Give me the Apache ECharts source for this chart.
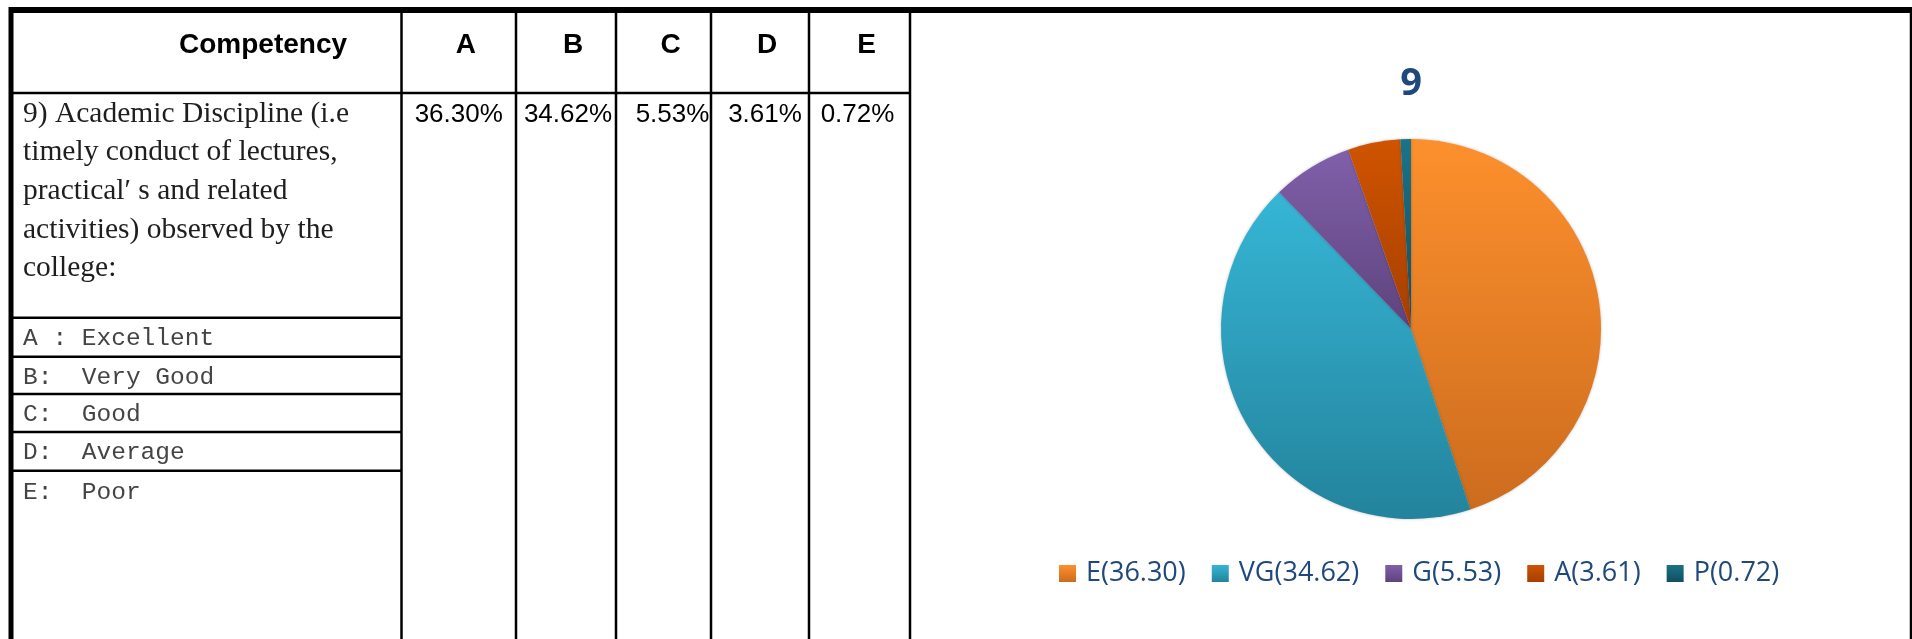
<!DOCTYPE html>
<html>
<head>
<meta charset="utf-8">
<title>Academic Discipline</title>
<script src="https://cdn.jsdelivr.net/npm/echarts@6/dist/echarts.min.js"></script>
<style>
  html, body { margin: 0; padding: 0; background: #fff; }
  #chart { width: 1912px; height: 639px; }
</style>
</head>
<body>
<div id="chart"></div>
<script>
// ---- data ----
const sliceNames = ['E', 'VG', 'G', 'A', 'P'];
const sliceValues = [36.30, 34.62, 5.53, 3.61, 0.72];
const gradeCodes = ['A', 'B', 'C', 'D', 'E'];
const gradeNames = ['Excellent', 'Very Good', 'Good', 'Average', 'Poor'];
const headerTitle = 'Competency';
const questionLines = [
  '9) Academic Discipline (i.e',
  'timely conduct of lectures,',
  'practical\u2032 s and related',
  'activities) observed by the',
  'college:'
];
const chartTitle = '9';

// ---- look ----
const sliceColors = [
  ['#fd902d', '#cc6c1e'],
  ['#36b6d6', '#23839c'],
  ['#8060aa', '#5e437d'],
  ['#d05400', '#a53f00'],
  ['#1b7388', '#124e60']
];
const colEdges = [11, 401.5, 516, 616, 711, 809, 910];
const headerBottom = 93;
const keyRowLines = [317.7, 356.7, 394, 432, 470.7];
const valueNudge = [0, 2, 9, 5, -2];

const chart = echarts.init(document.getElementById('chart'));

function grad (pair) {
  return new echarts.graphic.LinearGradient(0, 0, 0, 1, [
    { offset: 0, color: pair[0] },
    { offset: 1, color: pair[1] }
  ]);
}

function line (x1, y1, x2, y2, w) {
  return {
    type: 'line',
    silent: true,
    shape: { x1: x1, y1: y1, x2: x2, y2: y2 },
    style: { stroke: '#000', lineWidth: w }
  };
}

function text (str, x, y, font, fill, align) {
  return {
    type: 'text',
    silent: true,
    style: {
      text: str, x: x, y: y, font: font, fill: fill,
      align: align || 'center', verticalAlign: 'middle'
    }
  };
}

// table drawn as plain graphics
const table = [];
// outer frame
table.push(line(9, 10, 1912, 10, 6));
table.push(line(11, 7, 11, 639, 5));
table.push(line(1911, 7, 1911, 639, 2.5));
// column borders
for (let i = 1; i < colEdges.length; i++) {
  table.push(line(colEdges[i], 13, colEdges[i], 639, 2.5));
}
table.push(line(13, headerBottom, colEdges[colEdges.length - 1], headerBottom, 2.5));
keyRowLines.forEach(y => table.push(line(13, y, colEdges[1], y, 2.5)));

// header
table.push(text(headerTitle, 263, 45, 'bold 28px "Liberation Sans", Arial, sans-serif', '#000'));
gradeCodes.forEach((g, i) => {
  const cx = (colEdges[i + 1] + colEdges[i + 2]) / 2 + 7;
  table.push(text(g, cx, 45, 'bold 28px "Liberation Sans", Arial, sans-serif', '#000'));
});
// percentages
sliceValues.forEach((v, i) => {
  const cx = (colEdges[i + 1] + colEdges[i + 2]) / 2 + valueNudge[i];
  table.push(text(v.toFixed(2) + '%', cx, 115, '26px "Liberation Sans", Arial, sans-serif', '#000'));
});
// question
questionLines.forEach((s, i) => {
  table.push(text(s, 23, 114 + i * 38.6, '29.5px "Liberation Serif", "Times New Roman", serif', '#1e1e1e', 'left'));
});
// key rows
gradeCodes.forEach((g, i) => {
  const label = i === 0 ? g + ' : ' + gradeNames[i] : g + ':  ' + gradeNames[i];
  table.push(text(label, 23, keyRowLines[i] + 20.5 + (i === 4 ? 1.5 : 0), '24.5px "Liberation Mono", "Courier New", monospace', '#444', 'left'));
});
// pie title
table.push(text(chartTitle, 1411, 84, 'bold 38px "Open Sans", sans-serif', '#1f497d'));

const option = {
  backgroundColor: '#fff',
  animation: false,
  legend: {
    left: 1054,
    top: 555,
    orient: 'horizontal',
    icon: 'rect',
    itemWidth: 17,
    itemHeight: 17,
    itemGap: 26,
    selectedMode: false,
    data: sliceNames,
    formatter: function (name) {
      return name + '(' + sliceValues[sliceNames.indexOf(name)].toFixed(2) + ')';
    },
    textStyle: {
      fontFamily: '"Open Sans", sans-serif',
      fontSize: 27,
      color: '#1f497d',
      padding: [0, 0, 0, 5]
    }
  },
  series: [{
    type: 'pie',
    center: [1411, 329],
    radius: 190,
    startAngle: 90,
    clockwise: true,
    silent: true,
    label: { show: false },
    labelLine: { show: false },
    itemStyle: {
      borderWidth: 0,
      shadowBlur: 3,
      shadowColor: 'rgba(0,0,0,0.25)'
    },
    data: sliceNames.map((n, i) => ({
      name: n,
      value: sliceValues[i],
      itemStyle: { color: grad(sliceColors[i]) }
    }))
  }],
  graphic: table
};

chart.setOption(option);
</script>
</body>
</html>
